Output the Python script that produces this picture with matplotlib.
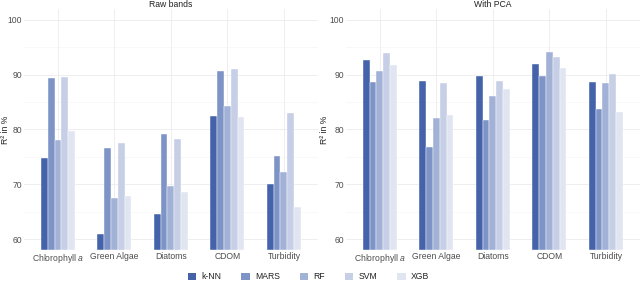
import numpy as np
import matplotlib
matplotlib.use("Agg")
import matplotlib.pyplot as plt
from matplotlib.patches import Patch

plt.rcParams["font.family"] = ["Liberation Sans", "DejaVu Sans"]
plt.rcParams["mathtext.fontset"] = "custom"
plt.rcParams["mathtext.rm"] = "Liberation Sans"
plt.rcParams["mathtext.it"] = "Liberation Sans:italic"

# categories and models
categories = ["Chlorophyll $a$", "Green Algae", "Diatoms", "CDOM", "Turbidity"]
models = ["k-NN", "MARS", "RF", "SVM", "XGB"]
colors = ["#4563aa", "#7e94c6", "#a2b1d6", "#c7cfe6", "#e1e5f1"]

# R^2 in %, one list per model (order of categories)
raw_knn = [74.7, 61.0, 64.6, 82.4, 70.0]
raw_mars = [89.4, 76.7, 79.2, 90.7, 75.1]
raw_rf = [78.0, 67.5, 69.7, 84.2, 72.2]
raw_svm = [89.6, 77.6, 78.3, 91.1, 83.0]
raw_xgb = [79.7, 67.9, 68.6, 82.2, 65.9]

pca_knn = [92.7, 88.9, 89.7, 91.9, 88.7]
pca_mars = [88.7, 76.8, 81.8, 89.8, 83.7]
pca_rf = [90.7, 82.1, 86.1, 94.1, 88.5]
pca_svm = [93.9, 88.5, 88.8, 93.2, 90.2]
pca_xgb = [91.7, 82.6, 87.3, 91.3, 83.2]

panels = [
    ("Raw bands", [raw_knn, raw_mars, raw_rf, raw_svm, raw_xgb]),
    ("With PCA", [pca_knn, pca_mars, pca_rf, pca_svm, pca_xgb]),
]

fig = plt.figure(figsize=(6.4, 2.82), dpi=100)
ax_pos = [[0.0375, 0.1135, 0.459, 0.855], [0.5406, 0.1135, 0.459, 0.855]]
ylab_x = [-0.047, -0.058]

x = np.arange(1, len(categories) + 1)
bw = 0.12
fs = 6.2
txt = "#4d4d4d"

for (title, series), pos, lx in zip(panels, ax_pos, ylab_x):
    ax = fig.add_axes(pos)
    for i, vals in enumerate(series):
        ax.bar(x + (i - 2) * bw, np.array(vals) - 58, bottom=58, width=bw,
               color=colors[i], edgecolor="white", linewidth=0.3, zorder=3)
    ax.set_xlim(0.4, 5.6)
    ax.set_ylim(58, 102)
    ax.set_yticks([60, 70, 80, 90, 100])
    ax.set_yticks([65, 75, 85, 95], minor=True)
    ax.set_xticks(x)
    ax.set_xticklabels(categories)
    ax.grid(True, which="major", color="#ebebeb", linewidth=0.6, zorder=0)
    ax.grid(True, which="minor", axis="y", color="#f3f3f3", linewidth=0.4, zorder=0)
    ax.tick_params(which="both", length=0, labelsize=fs, labelcolor=txt, pad=1.2)
    for s in ax.spines.values():
        s.set_visible(False)
    ax.set_ylabel("R² in %", fontsize=fs, color="#222222")
    ax.yaxis.set_label_coords(lx, 0.5)
    ax.set_title(title, fontsize=fs, color="#222222", pad=1.5)

handles = [Patch(facecolor=c, edgecolor="none", label=m) for m, c in zip(models, colors)]
fig.legend(handles=handles, loc="lower center", bbox_to_anchor=(0.482, -0.025), ncol=5,
           frameon=False, fontsize=fs, labelcolor="#222222", handlelength=0.95,
           handleheight=0.95, columnspacing=2.35, handletextpad=0.6)

fig.savefig("out.png", dpi=100)
